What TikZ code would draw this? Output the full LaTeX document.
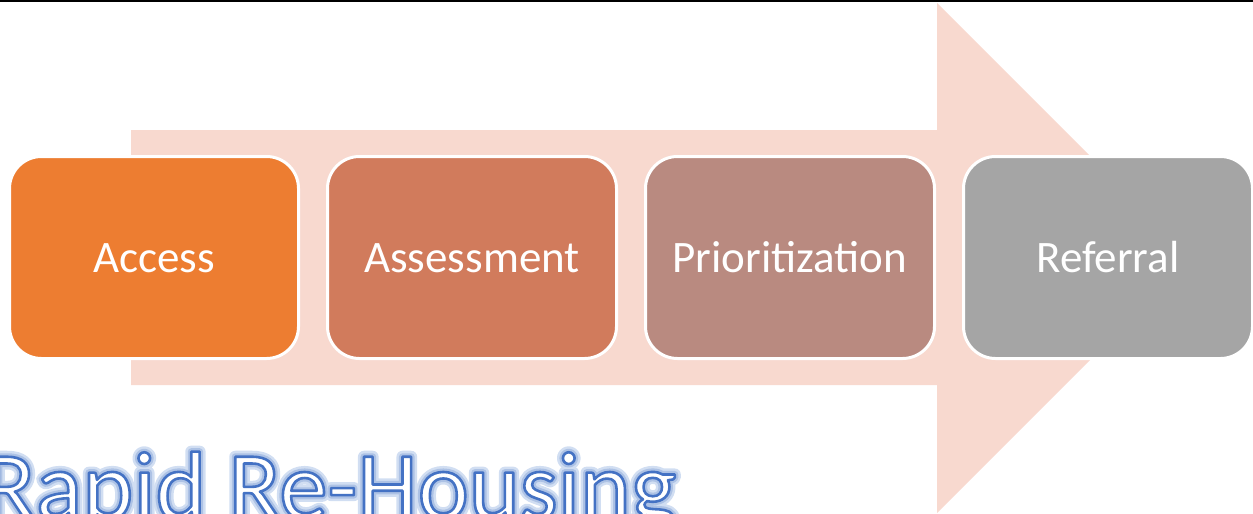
\documentclass[tikz,border=0pt]{standalone}
\usepackage{fontspec}
\setmainfont{Carlito}
\usetikzlibrary{positioning}

\definecolor{arrowpink}{HTML}{F8D9CF}
\definecolor{accessorange}{HTML}{ED7D31}
\definecolor{assessred}{HTML}{D17B5C}
\definecolor{priobrown}{HTML}{B98A80}
\definecolor{refergray}{HTML}{A5A5A5}

% outlined text through the pdf text render mode
\newcommand{\strokedtext}[3]{\special{pdf:literal direct 2 Tr #1 w 1 j #2 RG #3 rg}Rapid Re-Housing\special{pdf:literal direct 0 Tr}}

\tikzset{
  stagebox/.style={rectangle, rounded corners=32pt, draw=white, line width=3pt,
    minimum width=289pt, minimum height=202pt, text=white,
    font=\fontsize{45}{54}\selectfont, text height=29pt, text depth=0pt},
  titletext/.style={anchor=base west, inner sep=0pt, font=\fontsize{97}{112}\selectfont}
}

\begin{document}
\begin{tikzpicture}[x=1pt, y=-1pt]

\useasboundingbox (0,0) rectangle (1253,514);
\clip (0,0) rectangle (1253,514);

% black rule at the top
\fill[black] (0,0) rectangle (1253,2);

% big background arrow
\fill[arrowpink] (131,130) -- (937,130) -- (937,3) -- (1192,258) -- (937,513) -- (937,385) -- (131,385) -- cycle;

% stage boxes
\node[stagebox, fill=accessorange] (access) at (154,257.5) {Access};
\node[stagebox, fill=assessred, right=26pt of access] (assessment) {Assessment};
\node[stagebox, fill=priobrown, right=26pt of assessment] (prioritization) {Prioritization};
\node[stagebox, fill=refergray, right=26pt of prioritization] (referral) {Referral};

% title with glow and outline
\coordinate (T) at (-17,519);
\node[titletext] (titleglow) at (T) {\strokedtext{12}{0.82 0.87 0.95}{0.82 0.87 0.95}};
\node[titletext] (titlehalo) at (T) {\strokedtext{7}{0.68 0.76 0.9}{0.68 0.76 0.9}};
\node[titletext] (title) at (T) {\strokedtext{2.6}{0.267 0.447 0.769}{1 1 1}};

\end{tikzpicture}
\end{document}
